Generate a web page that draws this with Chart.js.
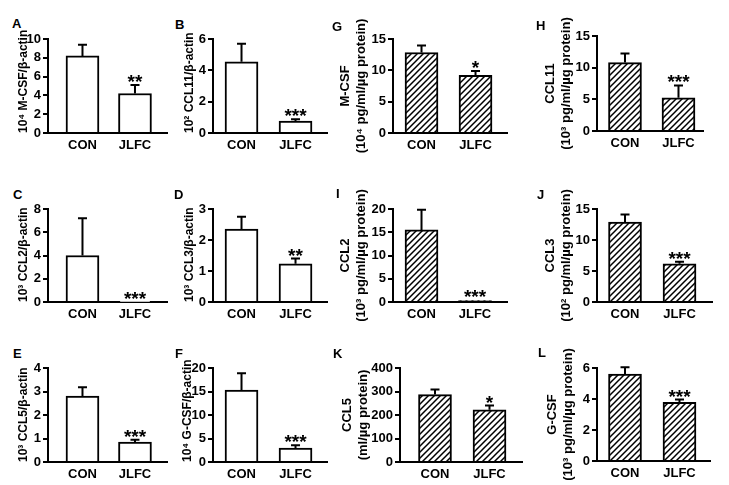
<!DOCTYPE html>
<html>
<head>
<meta charset="utf-8">
<script src="https://cdn.jsdelivr.net/npm/chart.js@4.4.1/dist/chart.umd.min.js"></script>
<style>
  html, body { margin: 0; padding: 0; background: #fff; }
  #fig { position: relative; width: 729px; height: 485px; overflow: hidden; }
  #fig canvas { position: absolute; }
  .letter { position: absolute; font: bold 13px "Liberation Sans", Arial, sans-serif; line-height: 13px; color: #000; }
</style>
</head>
<body>
<div id="fig"></div>
<script>
// panel data, row by row (A B G H / C D I J / E F K L)
const panelLetters = ["A", "B", "G", "H", "C", "D", "I", "J", "E", "F", "K", "L"];
const groups = ["CON", "JLFC"];
const yTitles = [
    "10\u2074 M-CSF/\u03b2-actin",
    "10\u00b2 CCL11/\u03b2-actin",
    ["M-CSF", "(10\u2074 pg/ml/\u00b5g protein)"],
    ["CCL11", "(10\u00b3 pg/ml/\u00b5g protein)"],
    "10\u00b3 CCL2/\u03b2-actin",
    "10\u00b3 CCL3/\u03b2-actin",
    ["CCL2", "(10\u00b3 pg/ml/\u00b5g protein)"],
    ["CCL3", "(10\u00b2 pg/ml/\u00b5g protein)"],
    "10\u00b3 CCL5/\u03b2-actin",
    "10\u2074 G-CSF/\u03b2-actin",
    ["CCL5", "(ml/\u00b5g protein)"],
    ["G-CSF", "(10\u00b3 pg/ml/\u00b5g protein)"]
];
const yMax = [10, 6, 15, 15, 8, 3, 20, 15, 4, 20, 400, 6];
const yStep = [2, 2, 5, 5, 2, 1, 5, 5, 1, 5, 100, 2];
const conMean = [8.2, 4.55, 12.85, 10.8, 4.0, 2.35, 15.5, 12.9, 2.8, 15.3, 287, 5.6];
const conErr = [1.2, 1.15, 1.1, 1.45, 3.2, 0.4, 4.35, 1.2, 0.38, 3.6, 21, 0.45];
const jlfcMean = [4.2, 0.76, 9.2, 5.25, 0.02, 1.23, 0.3, 6.15, 0.85, 2.95, 222, 3.78];
const jlfcErr = [0.9, 0.12, 0.7, 1.95, 0.01, 0.17, 0.12, 0.35, 0.1, 0.6, 18, 0.18];
const stars = ["**", "***", "*", "***", "***", "**", "***", "***", "***", "***", "*", "***"];

// page layout of each panel (pixels on the page)
const layout = [
    { left: 0,   axisX: 48,  right: 167, top: 39,  zero: 133, xr: [-0.657, 1.61],  titleX: 24,  lx: 12,  ly: 19,  hatch: false },
    { left: 170, axisX: 213, right: 327, top: 39,  zero: 133, xr: [-0.528, 1.583], titleX: 190, lx: 175, ly: 20,  hatch: false },
    { left: 330, axisX: 393, right: 507, top: 39,  zero: 133, xr: [-0.528, 1.583], titleX: 345, lx: 332, ly: 22,  hatch: true },
    { left: 535, axisX: 597, right: 703, top: 36,  zero: 131, xr: [-0.523, 1.458], titleX: 550, lx: 536, ly: 21,  hatch: true },
    { left: 0,   axisX: 48,  right: 167, top: 209, zero: 302, xr: [-0.657, 1.61],  titleX: 24,  lx: 13,  ly: 190, hatch: false },
    { left: 170, axisX: 213, right: 327, top: 209, zero: 302, xr: [-0.528, 1.583], titleX: 190, lx: 174, ly: 190, hatch: false },
    { left: 330, axisX: 393, right: 507, top: 209, zero: 302, xr: [-0.533, 1.598], titleX: 345, lx: 336, ly: 189, hatch: true },
    { left: 535, axisX: 597, right: 712, top: 209, zero: 302, xr: [-0.514, 1.596], titleX: 550, lx: 537, ly: 190, hatch: true },
    { left: 0,   axisX: 48,  right: 167, top: 368, zero: 462, xr: [-0.657, 1.61],  titleX: 24,  lx: 13,  ly: 349, hatch: false },
    { left: 170, axisX: 213, right: 327, top: 368, zero: 462, xr: [-0.528, 1.583], titleX: 188, lx: 175, ly: 349, hatch: false },
    { left: 330, axisX: 400, right: 522, top: 368, zero: 462, xr: [-0.642, 1.596], titleX: 347, lx: 333, ly: 349, hatch: true },
    { left: 535, axisX: 597, right: 710, top: 368, zero: 461, xr: [-0.514, 1.56],  titleX: 552, lx: 538, ly: 348, hatch: true }
];

const FONT = '"Liberation Sans", Arial, sans-serif';
const PAD_TOP = 30;
const PAD_RIGHT = 4;
const X_AXIS_H = 30;
const TITLE_LH = 16;

function hatchPattern() {
    const tile = document.createElement("canvas");
    tile.width = 6;
    tile.height = 6;
    const c = tile.getContext("2d");
    c.fillStyle = "#fff";
    c.fillRect(0, 0, 6, 6);
    c.strokeStyle = "#000";
    c.lineWidth = 1.5;
    c.beginPath();
    c.moveTo(0, 6); c.lineTo(6, 0);
    c.moveTo(-1, 1); c.lineTo(1, -1);
    c.moveTo(5, 7); c.lineTo(7, 5);
    c.stroke();
    return c.createPattern(tile, "repeat");
}

function errorPlugin(i) {
    return {
        id: "errorBars" + i,
        afterDatasetsDraw(chart) {
            const ctx = chart.ctx;
            const y = chart.scales.y;
            const bars = chart.getDatasetMeta(0).data;
            const tops = [conMean[i] + conErr[i], jlfcMean[i] + jlfcErr[i]];
            ctx.save();
            ctx.strokeStyle = "#000";
            ctx.lineWidth = 2;
            bars.forEach((bar, j) => {
                const top = y.getPixelForValue(tops[j]);
                if (bar.y - top < 1) return;
                ctx.beginPath();
                ctx.moveTo(bar.x, bar.y);
                ctx.lineTo(bar.x, top);
                ctx.moveTo(bar.x - 4.5, top);
                ctx.lineTo(bar.x + 4.5, top);
                ctx.stroke();
            });
            const starY = y.getPixelForValue(tops[1]) + 3;
            ctx.fillStyle = "#000";
            ctx.font = "bold 19px " + FONT;
            ctx.textAlign = "center";
            ctx.textBaseline = "alphabetic";
            ctx.fillText(stars[i], bars[1].x, starY);
            ctx.restore();
        }
    };
}

function drawPanel(i) {
    const p = layout[i];
    const fig = document.getElementById("fig");

    const letter = document.createElement("div");
    letter.className = "letter";
    letter.textContent = panelLetters[i];
    letter.style.left = p.lx + "px";
    letter.style.top = (p.ly - 2) + "px";
    fig.appendChild(letter);

    const canvas = document.createElement("canvas");
    canvas.width = p.right - p.left + PAD_RIGHT;
    canvas.height = p.zero - p.top + PAD_TOP + X_AXIS_H;
    canvas.style.left = p.left + "px";
    canvas.style.top = (p.top - PAD_TOP) + "px";
    fig.appendChild(canvas);

    const fill = p.hatch ? hatchPattern() : "#fff";
    const twoLine = Array.isArray(yTitles[i]);
    const titleSize = twoLine ? 13 : 12;

    new Chart(canvas.getContext("2d"), {
        type: "bar",
        data: {
            datasets: [{
                data: [
                    { x: 0, y: conMean[i] },
                    { x: 1, y: jlfcMean[i] }
                ],
                backgroundColor: [fill, fill],
                borderColor: "#000",
                borderWidth: 2,
                borderSkipped: "start",
                barThickness: 33
            }]
        },
        options: {
            responsive: false,
            animation: false,
            devicePixelRatio: 1,
            layout: { padding: { top: PAD_TOP, right: PAD_RIGHT, left: 0, bottom: 0 } },
            plugins: {
                legend: { display: false },
                tooltip: { enabled: false }
            },
            scales: {
                x: {
                    type: "linear",
                    bounds: "data",
                    offset: false,
                    min: p.xr[0],
                    max: p.xr[1],
                    grid: { display: false, drawTicks: false },
                    border: { display: true, color: "#000", width: 2 },
                    ticks: {
                        color: "#000",
                        font: { family: FONT, size: 13, weight: "bold" },
                        padding: 5,
                        autoSkip: false,
                        maxRotation: 0,
                        callback: v => groups[v] ?? ""
                    },
                    afterBuildTicks: s => { s.ticks = [{ value: 0 }, { value: 1 }]; },
                    afterFit: s => { s.height = X_AXIS_H; }
                },
                y: {
                    min: 0,
                    max: yMax[i],
                    grid: {
                        display: true,
                        drawOnChartArea: false,
                        drawTicks: true,
                        tickLength: 5,
                        color: "#000",
                        lineWidth: 2
                    },
                    border: { display: true, color: "#000", width: 2 },
                    ticks: {
                        stepSize: yStep[i],
                        color: "#000",
                        font: { family: FONT, size: 13, weight: "bold" },
                        padding: 2
                    },
                    title: {
                        display: true,
                        text: yTitles[i],
                        align: twoLine ? "center" : "start",
                        color: "#000",
                        font: { family: FONT, size: titleSize, weight: "bold", lineHeight: TITLE_LH / titleSize },
                        padding: { top: p.titleX - p.left - TITLE_LH / 2, bottom: 0 }
                    },
                    afterFit: s => { s.width = p.axisX - p.left; }
                }
            }
        },
        plugins: [errorPlugin(i)]
    });
}

document.addEventListener("DOMContentLoaded", function () {
    for (let i = 0; i < panelLetters.length; i++) {
        drawPanel(i);
    }
});
</script>
</body>
</html>
